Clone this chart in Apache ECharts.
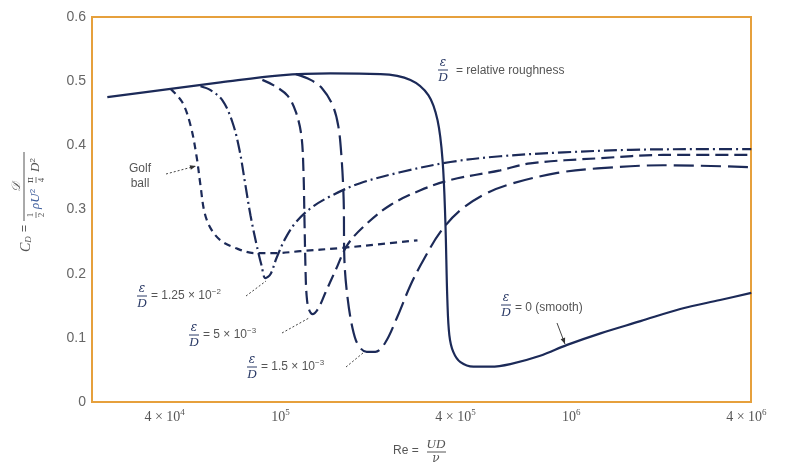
<!DOCTYPE html>
<html><head><meta charset="utf-8">
<script src="https://cdn.jsdelivr.net/npm/echarts@6/dist/echarts.min.js"></script>
<style>html,body{margin:0;padding:0;background:#fff}#c{width:786px;height:468px}</style>
</head><body><div id="c"></div>
<script>
// ---- data (Re, C_D) ----
const xTicks = [4e4, 1e5, 4e5, 1e6, 4e6];
const xTickLabels = ['4 × 10{s|4}', '10{s|5}', '4 × 10{s|5}', '10{s|6}', '4 × 10{s|6}'];
const yTicks = [0, 0.1, 0.2, 0.3, 0.4, 0.5, 0.6];
const yTickLabels = ['0', '0.1', '0.2', '0.3', '0.4', '0.5', '0.6'];

const smoothRe = [2.54e4, 4.19e4, 6.22e4, 1.0e5, 1.485e5, 2.21e5, 2.80e5, 3.23e5, 3.47e5, 3.61e5, 3.69e5, 3.75e5, 3.81e5, 3.93e5, 4.16e5, 4.61e5, 5.27e5, 6.17e5, 7.82e5, 9.68e5, 1.26e6, 1.73e6, 2.37e6, 3.25e6, 4.16e6];
const smoothCd = [0.475, 0.488, 0.498, 0.509, 0.512, 0.511, 0.502, 0.478, 0.439, 0.377, 0.283, 0.159, 0.104, 0.078, 0.062, 0.055, 0.055, 0.059, 0.072, 0.089, 0.107, 0.126, 0.145, 0.159, 0.170];

const golfRe = [4.19e4, 4.60e4, 4.91e4, 5.14e4, 5.31e4, 5.48e4, 5.75e4, 6.22e4, 7.00e4, 8.20e4, 9.61e4, 1.17e5, 1.61e5, 2.21e5, 2.96e5];
const golfCd = [0.488, 0.467, 0.431, 0.385, 0.338, 0.296, 0.271, 0.252, 0.240, 0.232, 0.232, 0.235, 0.240, 0.246, 0.252];

const r125Re = [5.31e4, 5.75e4, 6.32e4, 6.84e4, 7.23e4, 7.58e4, 7.89e4, 8.28e4, 8.61e4, 8.88e4, 9.24e4, 9.69e4, 1.04e5, 1.13e5, 1.27e5, 1.49e5, 1.88e5, 2.58e5, 3.84e5, 5.70e5, 9.40e5, 1.60e6, 2.78e6, 4.16e6];
const r125Cd = [0.492, 0.486, 0.470, 0.436, 0.393, 0.338, 0.291, 0.245, 0.213, 0.193, 0.199, 0.224, 0.255, 0.280, 0.302, 0.321, 0.341, 0.358, 0.374, 0.383, 0.389, 0.393, 0.394, 0.394];

const r5Re = [8.67e4, 9.61e4, 1.06e5, 1.13e5, 1.18e5, 1.20e5, 1.21e5, 1.22e5, 1.23e5, 1.25e5, 1.29e5, 1.35e5, 1.43e5, 1.55e5, 1.70e5, 1.96e5, 2.39e5, 3.03e5, 3.84e5, 5.70e5, 7.23e5, 1.26e6, 2.07e6, 4.16e6];
const r5Cd = [0.502, 0.492, 0.477, 0.452, 0.416, 0.361, 0.283, 0.206, 0.167, 0.146, 0.137, 0.146, 0.171, 0.206, 0.245, 0.276, 0.307, 0.330, 0.346, 0.361, 0.372, 0.380, 0.385, 0.385];

const r15Re = [1.13e5, 1.27e5, 1.39e5, 1.51e5, 1.58e5, 1.62e5, 1.65e5, 1.66e5, 1.70e5, 1.77e5, 1.85e5, 1.98e5, 2.12e5, 2.29e5, 2.52e5, 2.80e5, 3.10e5, 3.55e5, 4.16e5, 5.15e5, 6.32e5, 8.96e5, 1.23e6, 2.07e6, 4.16e6];
const r15Cd = [0.511, 0.502, 0.489, 0.463, 0.431, 0.385, 0.315, 0.221, 0.164, 0.115, 0.089, 0.078, 0.078, 0.092, 0.132, 0.182, 0.221, 0.265, 0.299, 0.326, 0.341, 0.357, 0.364, 0.369, 0.366];

const seriesNames = ['ε/D = 0 (smooth)', 'Golf ball', 'ε/D = 1.25 × 10⁻²', 'ε/D = 5 × 10⁻³', 'ε/D = 1.5 × 10⁻³'];

// ---- styling ----
const lineColor = '#1c2a58';
const fracColor = '#2a3a66';
const textColor = '#555';
const pair = (xs, ys) => xs.map((x, i) => [x, ys[i]]);

function mkSeries(name, xs, ys, dash) {
  return {
    type: 'line', name: name, data: pair(xs, ys), smooth: 0.35, showSymbol: false,
    lineStyle: { color: lineColor, width: 2.2, type: dash }, z: 3
  };
}

function epsD(cx, cy) {
  return [
    { type: 'text', x: cx, y: cy - 1, style: { text: 'ε', font: 'italic 12px "DejaVu Serif"', fill: fracColor, textAlign: 'center', textVerticalAlign: 'bottom' } },
    { type: 'line', shape: { x1: cx - 5, y1: cy, x2: cx + 5, y2: cy }, style: { stroke: fracColor, lineWidth: 1 } },
    { type: 'text', x: cx, y: cy + 1, style: { text: 'D', font: 'italic 13px "Liberation Serif"', fill: fracColor, textAlign: 'center', textVerticalAlign: 'top' } }
  ];
}
function label(x, y, txt) {
  return { type: 'text', x: x, y: y, style: { text: txt, font: '12px "Liberation Sans"', fill: textColor, textAlign: 'left', textVerticalAlign: 'middle',
    rich: { s: { fontSize: 8, fill: textColor, verticalAlign: 'top', lineHeight: 16 }, n: { fontSize: 12, fill: textColor, lineHeight: 16 } } } };
}
function arrow(x1, y1, x2, y2, dashed, head) {
  const out = [{ type: 'line', shape: { x1: x1, y1: y1, x2: x2, y2: y2 }, style: { stroke: '#444', lineWidth: 1, lineDash: dashed ? [2, 2] : null } }];
  if (head) {
    const a = Math.atan2(y2 - y1, x2 - x1), s = 6;
    out.push({ type: 'polygon', shape: { points: [[x2, y2],
      [x2 - s * Math.cos(a) + s * 0.4 * Math.sin(a), y2 - s * Math.sin(a) - s * 0.4 * Math.cos(a)],
      [x2 - s * Math.cos(a) - s * 0.4 * Math.sin(a), y2 - s * Math.sin(a) + s * 0.4 * Math.cos(a)]] }, style: { fill: '#333' } });
  }
  return out;
}

const ser = 'italic 13px "Liberation Serif"';
const yTitle = {
  type: 'group', x: 24, y: 252, rotation: Math.PI / 2,
  children: [
    { type: 'text', x: 0, y: 2, style: { text: 'C{d|D}', font: 'italic 14px "Liberation Serif"', fill: textColor, textVerticalAlign: 'middle',
      rich: { d: { fontSize: 9, fontStyle: 'italic', fontFamily: 'Liberation Serif', fill: textColor, verticalAlign: 'bottom', lineHeight: 14 } } } },
    { type: 'text', x: 20, y: 1, style: { text: '=', font: '12px "Liberation Sans"', fill: textColor, textVerticalAlign: 'middle' } },
    { type: 'line', shape: { x1: 31, y1: 0, x2: 100, y2: 0 }, style: { stroke: textColor, lineWidth: 1 } },
    { type: 'text', x: 65, y: -1, style: { text: '𝒟', font: 'italic 12px "DejaVu Serif"', fill: textColor, textAlign: 'center', textVerticalAlign: 'bottom' } },
    { type: 'text', x: 37, y: 2, style: { text: '1', font: '9px "Liberation Serif"', fill: textColor, textAlign: 'center', textVerticalAlign: 'top' } },
    { type: 'line', shape: { x1: 34, y1: 12, x2: 40, y2: 12 }, style: { stroke: textColor, lineWidth: 0.8 } },
    { type: 'text', x: 37, y: 13, style: { text: '2', font: '9px "Liberation Serif"', fill: textColor, textAlign: 'center', textVerticalAlign: 'top' } },
    { type: 'text', x: 43, y: 12, style: { text: 'ρU{p|2}', font: ser, fill: '#3a5a9a', textVerticalAlign: 'middle',
      rich: { p: { fontSize: 8, fill: '#3a5a9a', verticalAlign: 'top', lineHeight: 15 } } } },
    { type: 'text', x: 72, y: 2, style: { text: 'π', font: '9px "DejaVu Serif"', fill: textColor, textAlign: 'center', textVerticalAlign: 'top' } },
    { type: 'line', shape: { x1: 69, y1: 12, x2: 75, y2: 12 }, style: { stroke: textColor, lineWidth: 0.8 } },
    { type: 'text', x: 72, y: 13, style: { text: '4', font: '9px "Liberation Serif"', fill: textColor, textAlign: 'center', textVerticalAlign: 'top' } },
    { type: 'text', x: 80, y: 12, style: { text: 'D{p|2}', font: ser, fill: textColor, textVerticalAlign: 'middle',
      rich: { p: { fontSize: 8, fill: textColor, verticalAlign: 'top', lineHeight: 15 } } } }
  ]
};

const xTitle = [
  { type: 'text', x: 393, y: 451, style: { text: 'Re =', font: '12px "Liberation Sans"', fill: textColor, textVerticalAlign: 'middle' } },
  { type: 'text', x: 436, y: 451, style: { text: 'UD', font: 'italic 13px "Liberation Serif"', fill: textColor, textAlign: 'center', textVerticalAlign: 'bottom' } },
  { type: 'line', shape: { x1: 427, y1: 452, x2: 446, y2: 452 }, style: { stroke: textColor, lineWidth: 1 } },
  { type: 'text', x: 436, y: 453, style: { text: 'ν', font: 'italic 12px "DejaVu Serif"', fill: textColor, textAlign: 'center', textVerticalAlign: 'top' } }
];

const notes = [].concat(
  epsD(443, 70), [label(456, 71, '= relative roughness')],
  [{ type: 'text', x: 140, y: 169, style: { text: 'Golf', font: '12px "Liberation Sans"', fill: textColor, textAlign: 'center', textVerticalAlign: 'middle' } },
   { type: 'text', x: 140, y: 184, style: { text: 'ball', font: '12px "Liberation Sans"', fill: textColor, textAlign: 'center', textVerticalAlign: 'middle' } }],
  arrow(166, 174, 196, 166, true, true),
  epsD(142, 296), [label(151, 296, '{n|= 1.25 × 10}{s|−2}')], arrow(246, 296, 266, 281, true, false),
  epsD(194, 335), [label(203, 335, '{n|= 5 × 10}{s|−3}')], arrow(282, 333, 309, 318, true, false),
  epsD(252, 367), [label(261, 367, '{n|= 1.5 × 10}{s|−3}')], arrow(346, 367, 363, 353, true, false),
  epsD(506, 305), [label(515, 308, '= 0 (smooth)')], arrow(557, 323, 565, 344, false, true)
);

const chart = echarts.init(document.getElementById('c'), null, { renderer: 'canvas' });
chart.setOption({
  animation: false,
  backgroundColor: '#fff',
  grid: { left: 92, right: 35, top: 17, bottom: 66, show: true, borderColor: '#e6a03c', borderWidth: 2 },
  xAxis: {
    type: 'log', logBase: 10, min: 22500, max: 4150000,
    axisLine: { show: false }, axisTick: { show: false }, splitLine: { show: false },
    axisLabel: {
      customValues: xTicks, margin: 6, color: textColor, fontFamily: 'Liberation Serif', fontSize: 14,
      formatter: function (v) {
        const i = xTicks.findIndex(t => Math.abs(Math.log10(t) - Math.log10(v)) < 1e-6);
        return i >= 0 ? xTickLabels[i] : '';
      },
      rich: { s: { fontSize: 9, fontFamily: 'Liberation Serif', color: textColor, verticalAlign: 'top', lineHeight: 18 } }
    }
  },
  yAxis: {
    type: 'value', min: 0, max: 0.6, interval: 0.1,
    axisLine: { show: false }, axisTick: { show: false }, splitLine: { show: false },
    axisLabel: { margin: 6, color: '#666', fontFamily: 'Liberation Sans', fontSize: 14,
      formatter: function (v) { const i = yTicks.findIndex(t => Math.abs(t - v) < 1e-9); return i >= 0 ? yTickLabels[i] : ''; } }
  },
  series: [
    mkSeries(seriesNames[0], smoothRe, smoothCd, 'solid'),
    mkSeries(seriesNames[1], golfRe, golfCd, [7, 5]),
    mkSeries(seriesNames[2], r125Re, r125Cd, [13, 4, 2, 4]),
    mkSeries(seriesNames[3], r5Re, r5Cd, [13, 6]),
    mkSeries(seriesNames[4], r15Re, r15Cd, [20, 7])
  ],
  graphic: { elements: [yTitle].concat(xTitle, notes) }
});
</script>
</body></html>
